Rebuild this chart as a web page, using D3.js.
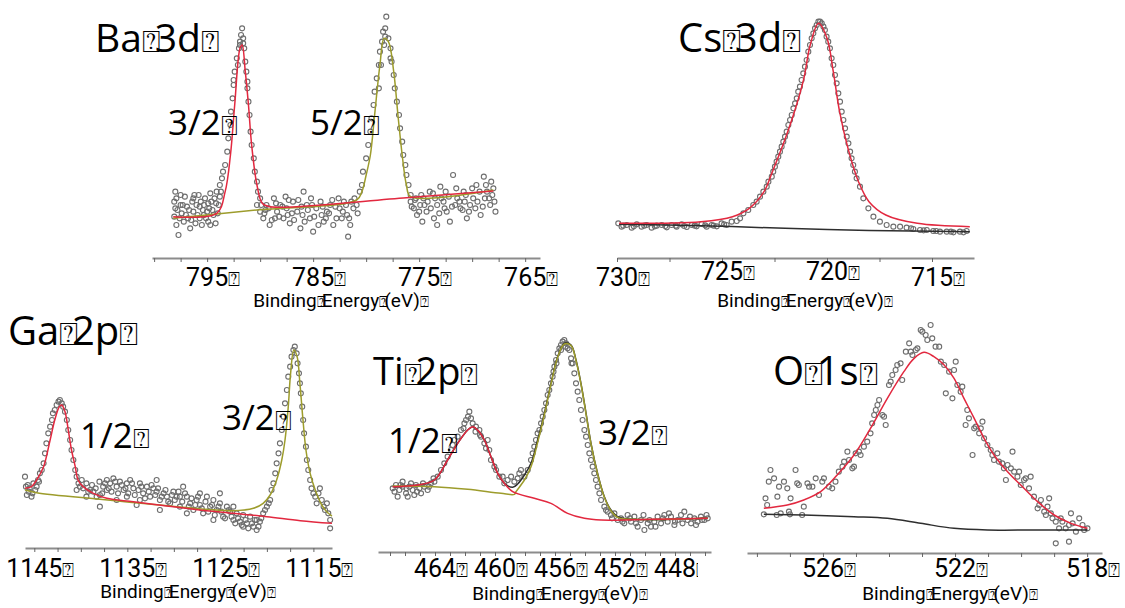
<!DOCTYPE html>
<html>
<head>
<meta charset="utf-8">
<script src="https://cdn.jsdelivr.net/npm/d3@7"></script>
<style>
  body { margin: 0; background: #fff; }
  .pt { fill: none; stroke: #6e6e6e; stroke-width: 1.1; }
  .fit { fill: none; stroke-width: 1.5; }
  .axis path { stroke: #8c8c8c; stroke-width: 2; }
  .axis line { stroke: #666; }
</style>
</head>
<body>
<script>
const BOX = '\u2370';

// ---- Ba 3d : [binding energy eV, counts a.u.]
const baPoints = [
  [798.0,140],[797.9,120],[798.0,90],[798.1,65],[797.9,40],[797.7,10],[797.5,100],[797.4,75],[797.2,50],[797.1,125],
  [796.9,95],[796.8,60],[796.6,30],[796.4,110],[796.3,80],[796.1,45],[796.0,100],[795.8,130],[795.7,60],[795.5,40],
  [795.3,100],[795.2,120],[795.0,80],[794.9,50],[794.7,135],[794.6,110],[794.4,70],[794.2,45],[794.1,140],[793.9,100],
  [793.8,160],[793.6,180],[793.5,200],[797.6,60],[796.7,85],[795.7,95],[794.8,90],[794.15,105],[793.8,125],[796.3,120],
  [795.3,70],[797.5,130],[794.7,40],
  [798.1,110],[797.8,85],[797.3,100],[797.0,70],[796.5,55],[796.2,130],[795.9,70],[795.6,110],[795.4,85],[795.1,60],
  [794.9,105],[794.5,85],[794.3,120],[794.0,75],[793.7,140],
  [793.3,220],[793.1,260],[793.0,300],[792.8,340],[792.75,380],[792.6,420],[792.5,460],[792.4,500],[792.2,540],[792.0,570],
  [791.9,590],[791.8,610],[791.7,630],[791.6,600],[791.5,570],[791.4,530],[791.3,500],[791.2,450],[791.1,410],[791.0,370],
  [790.9,320],[790.8,280],[790.6,240],[790.5,200],[790.3,170],[790.2,140],[790.0,120],[791.9,580],[791.6,585],[792.1,520],
  [792.5,475],[791.2,470],
  [790.3,100],[790.0,80],[789.7,60],[789.4,100],[789.1,40],[788.7,120],[788.4,80],[788.1,100],[787.8,60],[787.6,125],
  [787.5,90],[787.2,45],[786.9,110],[786.5,80],[786.2,30],[785.9,140],[785.6,100],[785.3,60],[785.0,20],[784.7,90],
  [784.3,110],[784.0,50],[783.7,80],[783.4,100],[783.1,40],[782.8,60],[782.5,90],[782.1,110],[781.8,70],[781.5,40],
  [781.2,90],[780.9,100],[780.6,140],[789.5,85],[788.6,60],[787.3,115],[786.1,95],[785.1,100],[784.2,70],[783.2,115],
  [782.3,60],[781.4,110],[781.7,5],[787.0,75],[785.8,50],
  [789.9,100],[789.6,75],[789.2,90],[788.9,55],[788.5,105],[788.2,65],[787.9,95],[787.4,70],[786.8,55],[786.4,115],
  [786.0,70],[785.5,85],[785.2,120],[784.9,65],[784.5,40],[784.1,95],[783.8,60],[783.5,75],[782.9,95],[782.6,120],
  [782.2,80],[781.9,100],[781.6,60],[781.1,120],[780.8,75],
  [780.4,160],[780.3,200],[780.0,240],[779.8,280],[779.6,320],[779.5,360],[779.3,400],[779.2,440],[779.0,480],[778.8,520],
  [778.7,560],[778.5,590],[778.4,620],[778.2,630],[778.1,665],[777.9,600],[777.7,570],[777.6,530],[777.4,490],[777.3,450],
  [777.1,410],[776.9,370],[776.8,330],[776.6,290],[776.5,250],[776.3,220],[776.2,190],[776.0,160],[775.8,130],[778.3,580],
  [778.2,605],[778.6,520],[777.7,540],[778.8,450],
  [775.8,110],[775.5,90],[775.2,70],[774.9,100],[774.6,120],[774.3,80],[774.0,140],[773.6,60],[773.3,100],[773.0,155],
  [772.7,110],[772.4,80],[772.1,50],[771.8,190],[771.4,120],[771.1,90],[770.8,140],[770.5,60],[770.2,100],[769.9,120],
  [769.6,160],[769.2,70],[768.9,185],[768.6,140],[768.3,100],[768.0,150],[767.8,80],[775.4,115],[774.5,100],[773.5,120],
  [772.5,140],[771.6,100],[770.7,110],[769.7,90],[768.8,120],[768.1,130],[774.7,50],[773.3,40],
  [775.7,95],[775.3,120],[775.0,80],[774.8,130],[774.2,110],[773.9,90],[773.7,135],[773.1,75],[772.9,120],[772.6,90],
  [772.2,125],[771.9,95],[771.5,150],[771.2,110],[770.9,85],[770.6,130],[770.3,80],[770.0,150],[769.5,110],[769.3,140],
  [769.0,95],[768.7,160],[768.4,120],[768.2,170],[767.9,110]
];
const baFit32 = [[798.2,65],[794.1,75],[793.3,140],[792.8,250],[792.4,400],[791.9,570],[791.7,580],[791.4,500],[791.1,400],
  [790.8,280],[790.3,160],[789.8,105],[789.1,95],[776.2,122],[768.0,142]];
const baFit52 = [[798.2,60],[790.3,85],[780.9,115],[780.4,140],[780.0,190],[779.6,250],[779.2,370],[778.7,520],[778.3,600],
  [777.9,590],[777.4,500],[777.0,370],[776.6,250],[776.2,160],[775.8,125],[768.0,145]];
const baTicks = [795, 785, 775, 765];

// ---- Cs 3d
const csPoints = [
  [729.94,45],[729.78,35],[729.54,40],[729.3,32],[729.06,42],[728.83,35],[728.59,40],[728.35,32],[728.11,38],[727.87,40],
  [727.63,33],[727.4,40],[727.16,35],[726.92,42],[726.68,34],[726.44,40],[726.21,36],[725.97,43],[725.73,35],[725.49,40],
  [725.25,36],[725.02,45],[724.78,40],[724.54,50],[724.3,52],[724.14,60],
  [729.7,38],[729.2,36],[728.7,38],[728.2,36],[727.7,37],[727.2,38],[726.8,37],[726.3,38],[725.8,39],[725.4,38],[724.9,42],
  [723.98,75],[723.75,85],[723.51,100],[723.35,110],[723.19,125],[723.03,140],[722.87,155],[722.79,170],[722.63,185],[722.56,200],
  [722.48,215],[722.4,230],[722.32,245],[722.24,260],[722.16,275],[722.08,290],[722.0,305],[721.92,320],[721.84,340],[721.76,355],
  [721.68,370],[721.6,390],[721.52,405],[721.44,420],[721.37,440],[721.29,455],[721.21,475],[721.13,495],[721.05,515],[720.97,535],
  [720.89,560],[720.81,580],[720.73,600],[720.65,615],[720.57,630],[720.49,640],[720.41,650],[720.33,650],[720.25,645],[720.17,635],
  [720.1,625],[720.02,605],[719.94,590],[719.86,570],[719.78,540],[719.7,520],[719.62,490],[719.54,465],[719.46,435],[719.38,410],
  [719.3,380],[719.22,355],[719.14,330],[719.06,305],[718.98,285],[718.9,260],[718.83,240],[718.75,220],[718.67,200],[718.59,180],
  [718.43,155],[718.27,120],[718.03,90],[717.79,65],[717.48,50],[717.16,40],[716.84,35],[716.52,35],[716.21,32],[715.89,28],
  [715.57,25],[715.25,25],[714.94,22],[714.62,20],[714.3,20],[713.98,18],[713.67,20],[713.35,22],
  [716.0,30],[715.4,24],[714.8,22],[714.1,20],[713.5,18]
];
const csFit = [[729.9,45],[726.0,50],[724.5,65],[723.7,90],[723.0,140],[722.6,200],[722.1,280],[721.6,370],[721.1,480],[720.8,580],
  [720.4,645],[720.0,600],[719.7,500],[719.4,380],[719.0,270],[718.5,170],[718.0,110],[717.2,70],[715.7,45],[713.2,35]];
const csBackground = [[729.9,42],[726.0,38],[722.0,30],[719.0,25],[716.0,22],[713.2,20]];
const csTicks = [730, 725, 720, 715];

// ---- Ga 2p
const gaPoints = [
  [1146.0,290],[1145.9,260],[1145.8,235],[1145.6,245],[1145.5,255],[1145.3,230],[1145.1,270],[1144.9,250],[1144.75,260],[1144.6,280],
  [1144.4,300],[1144.2,310],[1144.0,330],[1143.85,360],[1143.7,390],[1143.5,420],[1143.3,440],[1143.1,460],[1143.0,480],[1142.8,490],
  [1142.6,505],[1142.4,515],[1142.25,520],[1142.05,510],[1141.9,500],[1141.7,485],[1141.5,460],[1141.35,430],[1141.15,400],[1141.0,370],
  [1140.8,340],[1140.6,310],[1140.45,290],[1140.25,270],[1140.1,260],[1139.9,280],[1139.75,255],[1139.4,270],[1139.0,250],[1138.65,245],
  [1138.3,230],[1137.95,235],[1137.6,260],[1137.2,280],[1136.85,270],[1136.5,285],[1136.15,260],[1135.8,275],[1135.4,250],[1135.05,270],
  [1134.7,280],[1134.35,255],[1134.0,205],[1133.65,270],[1133.3,240],[1132.9,260],[1132.55,230],[1132.2,255],[1131.85,245],[1131.5,220],
  [1131.1,240],[1130.75,230],[1130.4,210],[1130.05,245],[1129.7,230],[1129.35,200],[1129.0,260],[1128.6,230],[1128.25,210],[1127.9,190],
  [1127.55,220],[1127.2,205],[1126.85,180],[1126.45,230],[1126.1,200],[1125.75,220],[1125.4,190],[1125.05,210],[1124.7,170],[1124.3,200],
  [1123.95,185],[1123.6,160],[1123.25,180],[1122.9,155],[1122.55,175],[1122.15,150],[1121.8,170],[1121.45,140],[1121.1,130],[1120.75,155],
  [1120.4,180],[1120.0,200],[1119.65,220],[1119.5,250],[1119.3,270],[1119.1,300],[1118.95,330],[1118.75,360],[1118.6,390],[1118.4,430],
  [1118.2,470],[1118.05,510],[1117.85,550],[1117.7,590],[1117.5,620],[1117.35,650],[1117.15,670],[1117.0,680],[1116.8,660],[1116.7,630],
  [1116.55,600],[1116.45,570],[1116.35,540],[1116.2,500],[1116.1,460],[1116.0,420],[1115.8,380],[1115.7,340],[1115.55,310],[1115.35,280],
  [1115.2,255],[1115.0,240],[1114.8,230],[1114.65,210],[1114.45,240],[1114.3,255],[1114.1,220],[1113.9,200],[1113.75,190],[1113.55,210],
  [1113.4,180],[1113.2,160],[1113.2,135],
  [1137.95,200],[1136.15,220],[1133.65,220],[1131.5,190],[1128.6,180],[1125.75,160],[1123.6,200],[1122.55,140],[1121.1,160],[1125.05,240],
  [1127.2,240],[1129.35,230],[1131.85,280],[1135.05,230],[1137.2,250],[1139.4,230],[1140.45,250],
  [1145.7,265],[1145.2,240],[1144.5,275],[1139.2,245],[1138.8,265],[1138.4,255],[1138.0,275],[1137.7,240],[1137.4,270],[1137.0,255],
  [1136.7,245],[1136.3,275],[1136.0,240],[1135.6,265],[1135.2,255],[1134.9,240],[1134.5,270],[1134.2,235],[1133.8,250],[1133.5,260],
  [1133.1,225],[1132.7,245],[1132.4,265],[1132.0,235],[1131.7,255],[1131.3,230],[1130.9,250],[1130.6,215],[1130.2,235],[1129.9,220],
  [1129.5,245],[1129.1,215],[1128.8,240],[1128.4,200],[1128.1,225],[1127.7,205],[1127.4,230],[1127.0,195],[1126.6,215],[1126.3,185],
  [1125.9,205],[1125.6,175],[1125.2,200],[1124.9,185],[1124.5,165],[1124.1,190],[1123.8,170],[1123.4,150],[1123.1,165],[1122.7,145],
  [1122.3,160],[1122.0,135],[1121.6,150],[1121.3,160],[1120.9,140],[1120.6,165],[1120.2,190],[1119.8,210]
];
const gaFit12 = [[1146.0,255],[1145.3,260],[1144.75,280],[1144.0,320],[1143.3,400],[1142.8,460],[1142.3,500],[1142.05,505],[1141.7,485],
  [1141.35,430],[1141.0,370],[1140.6,320],[1140.3,280],[1139.75,260],[1138.65,240],[1137.2,225],[1134.35,215],[1130.75,202],[1127.2,190],
  [1123.6,180],[1120.0,170],[1116.4,158],[1113.0,150]];
const gaFit32 = [[1146.0,250],[1144.75,242],[1137.95,222],[1130.75,203],[1123.6,188],[1121.45,195],[1120.4,210],[1119.65,235],[1118.95,280],
  [1118.4,340],[1118.05,400],[1117.7,500],[1117.45,600],[1117.1,670],[1116.75,650],[1116.45,570],[1116.15,470],[1115.8,370],[1115.35,300],
  [1114.8,250],[1114.1,205],[1113.4,180],[1113.0,172]];
const gaTicks = [1145, 1135, 1125, 1115];

// ---- Ti 2p
const tiPoints = [
  [466.82,225],[466.6,235],[466.49,200],[466.38,220],[466.16,230],[466.16,245],[465.93,210],[465.82,200],[465.71,230],[465.49,220],
  [465.38,205],[465.27,235],[465.04,225],[464.93,210],[464.71,230],[464.49,220],[464.27,240],[464.04,245],[463.82,260],[463.6,280],
  [463.38,300],[463.16,320],[462.93,340],[462.82,355],[462.71,370],[462.49,380],[462.27,400],[462.04,420],[461.93,430],[461.71,455],
  [461.6,435],[461.49,420],[461.27,410],[461.04,400],[460.93,380],[460.71,360],[460.49,370],[460.38,340],[460.27,310],[460.04,290],
  [459.93,280],[459.71,260],[459.49,260],[459.38,240],[459.16,250],[458.93,260],[458.71,245],[458.49,255],[458.38,270],[458.27,280],
  [458.04,260],[457.82,280],[457.6,310],[457.49,330],[457.38,350],[457.27,370],[457.16,390],[457.04,400],[456.93,420],[456.82,440],
  [456.71,460],[456.6,480],[456.49,505],[456.38,520],[456.27,540],[456.16,560],[456.04,590],[455.93,610],[455.82,630],[455.71,645],
  [455.6,655],[455.49,665],[455.38,670],[455.27,660],[455.16,645],[455.04,640],[454.93,615],[454.82,600],[454.71,570],[454.6,540],
  [454.49,515],[454.38,490],[454.27,460],[454.16,430],[454.04,400],[453.93,380],[453.82,355],[453.71,330],[453.6,310],[453.49,290],
  [453.38,270],[453.27,250],[453.16,230],[453.04,210],[452.93,190],[452.71,170],[452.49,155],[452.27,145],[452.04,150],[451.82,130],
  [451.6,135],[451.38,120],[451.16,145],[450.93,125],[450.71,140],[450.49,110],[450.27,130],[450.04,100],[449.82,120],[449.6,110],
  [449.38,125],[449.16,140],[448.93,120],[448.71,145],[448.49,125],[448.27,140],[448.04,115],[447.82,130],[447.6,145],[447.38,155],
  [447.16,130],[446.93,120],[446.71,135],[446.49,125],[446.27,140],[446.04,130],[445.82,135],
  [455.6,640],[455.3,650],[455.9,600],[456.1,575],[454.9,600],[462.1,405],[461.8,440],[461.3,395],[461.0,385],[460.6,345],
  [451.5,125],[451.0,135],[450.6,120],[450.1,145],[449.7,130],[449.3,110],[448.8,135],[448.4,150],[448.0,125],[447.5,120],
  [447.0,140],[446.6,115],[446.2,130],[445.9,145],[452.6,160],[452.2,135],
  [466.7,215],[466.3,235],[465.9,225],[465.6,240],[465.2,215],[464.8,240],[464.4,230],[464.1,255]
];
const tiFit12 = [[466.82,230],[465.16,235],[464.04,250],[463.16,310],[462.49,360],[461.82,400],[461.49,410],[461.16,400],[460.71,370],
  [460.27,320],[459.82,270],[459.38,240],[458.82,215],[457.38,195],[456.27,180],[455.16,150],[454.04,135],[452.93,130],[449.6,132],[445.82,135]];
const tiFit32 = [[466.82,232],[464.04,230],[461.82,222],[459.6,210],[458.71,207],[458.6,215],[458.04,250],[457.6,290],[457.16,362],
  [456.71,445],[456.27,537],[455.82,618],[455.38,658],[454.93,653],[454.6,608],[454.27,538],[453.93,448],[453.6,358],[453.16,268],
  [452.71,198],[452.27,158],[451.82,138],[450.71,132],[445.82,135]];
const tiEnvelope = [[466.82,230],[465.16,235],[464.04,250],[463.16,310],[462.49,360],[461.82,400],[461.49,410],[461.16,400],[460.71,370],
  [460.27,320],[459.82,270],[459.38,240],[458.82,228],[458.49,238],[458.04,265],[457.6,300],[457.16,370],[456.71,450],[456.27,540],
  [455.82,620],[455.38,660],[454.93,655],[454.6,610],[454.27,540],[453.93,450],[453.6,360],[453.16,270],[452.71,200],[452.27,160],
  [451.82,140],[450.71,132],[445.82,135]];
const tiTicks = [464, 460, 456, 452, 448];

// ---- O 1s
const oPoints = [
  [527.74,150],[527.69,130],[527.59,235],[527.48,210],[527.64,200],[527.38,155],[527.33,185],[527.28,105],[527.18,200],[527.08,180],
  [527.03,110],[526.98,150],[526.83,235],[526.78,195],[526.73,190],[526.63,100],[526.58,125],[526.47,195],[526.42,185],[526.32,185],
  [526.22,210],[526.12,160],[526.02,200],[525.97,210],[525.82,185],[525.72,180],[525.62,200],[525.52,230],[525.41,245],[525.36,260],
  [525.26,290],[525.21,265],[525.11,240],[525.06,245],[525.01,285],[524.91,290],[524.86,280],[524.76,305],[524.66,320],[524.56,345],
  [524.51,375],[524.45,400],[524.4,415],[524.35,430],[524.3,445],[524.2,400],[524.15,395],[524.1,370],[524.0,490],[523.95,500],
  [523.9,520],[523.8,535],[523.75,550],[523.65,555],[523.6,505],[523.49,590],[523.39,615],[523.34,590],[523.29,580],[523.19,595],
  [523.14,600],[523.04,655],[522.99,650],[522.89,640],[522.84,625],[522.74,670],[522.69,630],[522.59,605],[522.48,605],[522.43,560],
  [522.33,550],[522.28,465],[522.18,530],[522.08,450],[522.03,535],[521.98,560],[521.93,490],[521.83,470],[521.78,485],[521.68,370],
  [521.63,415],[521.58,390],[521.47,280],[521.42,360],[521.37,365],[521.27,345],[521.22,360],[521.17,380],[521.12,330],[521.02,310],
  [520.92,295],[520.87,280],[520.82,265],[520.72,285],[520.67,260],[520.57,255],[520.52,240],[520.46,205],[520.41,250],[520.31,240],
  [520.26,290],[520.21,230],[520.11,215],[520.06,230],[520.01,190],[519.91,205],[519.86,210],[519.76,180],[519.71,215],[519.61,155],
  [519.5,120],[519.45,130],[519.4,145],[519.3,110],[519.25,100],[519.2,125],[519.15,150],[519.1,105],[519.05,90],[518.95,80],
  [518.85,60],[518.8,90],[518.75,80],[518.65,60],[518.55,70],[518.49,105],[518.44,75],[518.34,50],[518.24,90],[518.14,70],
  [518.09,55],[517.99,60],[518.95,15],[518.55,20],[527.79,102],[527.4,100],[527.0,102]
];
const oFit = [[527.79,120],[527.08,130],[526.58,145],[526.07,170],[525.57,220],[525.06,280],[524.56,360],[524.05,450],[523.55,530],
  [523.24,570],[522.94,588],[522.64,575],[522.33,550],[522.03,510],[521.73,450],[521.42,390],[521.12,330],[520.82,280],[520.41,230],
  [520.01,190],[519.5,140],[519.0,100],[518.49,75],[517.99,60]];
const oBackground = [[527.79,102],[526.58,100],[525.06,95],[524.05,90],[523.04,75],[522.03,60],[521.02,55],[519.5,55],[517.99,55]];
const oTicks = [526, 522, 518];

const titles = ['Ba' + BOX + '3d' + BOX, 'Cs' + BOX + '3d' + BOX, 'Ga' + BOX + '2p' + BOX, 'Ti' + BOX + '2p' + BOX, 'O' + BOX + '1s' + BOX];
const axisTitle = 'Binding' + BOX + 'Energy' + BOX + '(eV)' + BOX;

const RED = '#e2283f';
const OLIVE = '#9d9c2c';
const DARK = '#2e2e2e';
const TITLE_FONT = "'Open Sans', sans-serif";
const AXIS_FONT = "'Liberation Sans Narrow', 'Roboto', sans-serif";
const BOX_FONT = "'DejaVu Sans', sans-serif";

const panels = [
  { title: titles[0], titleAt: [95, 52], titleSize: 39, domain: [800.2, 763.6], range: [152, 540], top: 5,
    axisY: 258, tickRange: [800, 765, 2.5], labels: baTicks, labelShift: [0, 0, 0, 0], labelY: 286, axisTitleAt: [341, 307],
    points: baPoints, lines: [[baFit52, OLIVE], [baFit32, RED]],
    peaks: [['3/2' + BOX, 168, 135], ['5/2' + BOX, 310, 135]] },
  { title: titles[1], titleAt: [678, 52], titleSize: 40, domain: [730, 713], range: [617, 974], top: 5,
    axisY: 258, tickRange: [730, 715, 2.5], labels: csTicks, labelShift: [0, -6, -6, 0], labelY: 286, axisTitleAt: [805, 307],
    points: csPoints, lines: [[csBackground, DARK], [csFit, RED]], peaks: [] },
  { title: titles[2], titleAt: [8, 345], titleSize: 40, domain: [1146, 1113], range: [25, 332], top: 340,
    axisY: 548, tickRange: [1145, 1115, 2.5], labels: gaTicks, labelShift: [0, 0, 0, 0], labelY: 577, axisTitleAt: [188, 598],
    points: gaPoints, lines: [[gaFit32, OLIVE], [gaFit12, RED]],
    peaks: [['1/2' + BOX, 80, 448], ['3/2' + BOX, 222, 430]] },
  { title: titles[3], titleAt: [373, 385], titleSize: 38, domain: [467.8, 445.6], range: [378, 711], top: 330,
    axisY: 552, tickRange: [467, 446, 1], labels: tiTicks, labelShift: [0, 0, 0, 0, 0], labelY: 577, axisTitleAt: [560, 600],
    points: tiPoints, lines: [[tiEnvelope, DARK], [tiFit32, OLIVE], [tiFit12, RED]], clipRight: 698,
    peaks: [['1/2' + BOX, 388, 453], ['3/2' + BOX, 598, 445]] },
  { title: titles[4], titleAt: [773, 385], titleSize: 40, domain: [528.3, 517.55], range: [747, 1102], top: 315,
    axisY: 553, tickRange: [528, 518, 1], labels: oTicks, labelShift: [0, 0, 0], labelY: 577, axisTitleAt: [950, 600],
    points: oPoints, lines: [[oBackground, DARK], [oFit, RED]], peaks: [] }
];

const svg = d3.select('body').append('svg').attr('width', 1125).attr('height', 608);

// write a string in which BOX marks an unrendered glyph
function boxText(parent, str, size, font, overlap) {
  const t = parent.append('text').attr('font-size', size).attr('font-family', font).attr('fill', '#000');
  const parts = str.split(BOX);
  parts.forEach((p, i) => {
    if (p) t.append('tspan').attr('class', 'part').attr('dx', i > 0 ? -overlap * size : 0).text(p);
    if (i < parts.length - 1) {
      t.append('tspan').attr('font-family', BOX_FONT).attr('font-size', size * 0.8).text(BOX);
    }
  });
  return t;
}

panels.forEach((p, pi) => {
  const g = svg.append('g').attr('class', 'panel-' + pi);
  const x = d3.scaleLinear().domain(p.domain).range(p.range);
  const y = d3.scaleLinear().domain([0, 700]).range([p.top + 700 / 3, p.top]);

  // axis
  const tickVals = d3.range(p.tickRange[0], p.tickRange[1] - 0.01, -p.tickRange[2]);
  g.append('g')
    .attr('class', 'axis')
    .attr('transform', `translate(0,${p.axisY})`)
    .call(d3.axisBottom(x).tickValues(tickVals).tickSize(4).tickSizeOuter(0).tickFormat(''));

  // data points
  g.append('g')
    .selectAll('circle')
    .data(p.points)
    .join('circle')
    .attr('class', 'pt')
    .attr('cx', (d) => x(d[0]))
    .attr('cy', (d) => y(d[1]))
    .attr('r', 2.5);

  // fitted curves
  const line = d3.line()
    .x((d) => x(d[0]))
    .y((d) => y(d[1]))
    .curve(d3.curveCatmullRom.alpha(0.5));
  p.lines.forEach(([data, color]) => {
    g.append('path').attr('class', 'fit').attr('stroke', color).attr('d', line(data));
  });

  // tick labels, number centred on the tick
  const labelG = g.append('g');
  if (p.clipRight) {
    svg.append('clipPath').attr('id', 'clip' + pi)
      .append('rect').attr('x', 0).attr('y', 0).attr('width', p.clipRight).attr('height', 608);
    labelG.attr('clip-path', `url(#clip${pi})`);
  }
  p.labels.forEach((v, i) => {
    const t = boxText(labelG, String(v) + BOX, 25, AXIS_FONT, 0);
    const w = t.select('tspan.part').node().getComputedTextLength();
    t.attr('x', x(v) - w / 2).attr('y', p.labelY + p.labelShift[i]);
  });

  boxText(g, axisTitle, 19, AXIS_FONT, 0.2)
    .attr('x', p.axisTitleAt[0]).attr('y', p.axisTitleAt[1]).attr('text-anchor', 'middle');

  boxText(g, p.title, p.titleSize, TITLE_FONT, 0.16)
    .attr('x', p.titleAt[0]).attr('y', p.titleAt[1]);

  p.peaks.forEach(([txt, px, py]) => {
    boxText(g, txt, 35, TITLE_FONT, 0).attr('x', px).attr('y', py);
  });
});
</script>
</body>
</html>
